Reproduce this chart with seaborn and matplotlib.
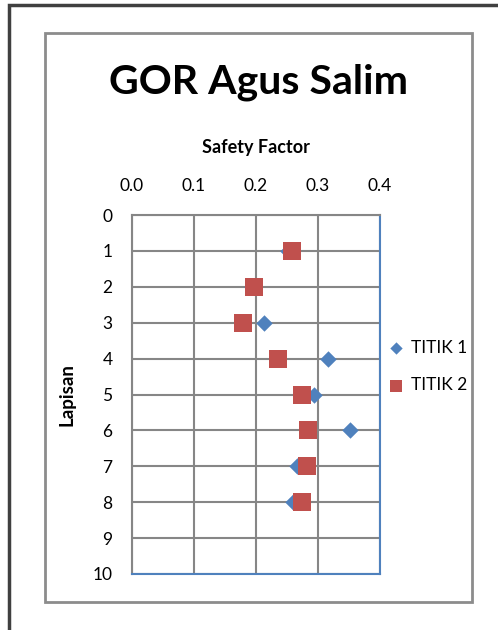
import matplotlib.pyplot as plt
import seaborn as sns
import pandas as pd
from matplotlib.patches import Rectangle

# data
lapisan = [1, 2, 3, 4, 5, 6, 7, 8]
titik_1 = [0.252, 0.193, 0.213, 0.316, 0.293, 0.352, 0.266, 0.259]
titik_2 = [0.258, 0.197, 0.179, 0.235, 0.274, 0.284, 0.283, 0.274]
series_names = ['TITIK 1', 'TITIK 2']
x_ticks = [0.0, 0.1, 0.2, 0.3, 0.4]
y_ticks = list(range(0, 11))

df = pd.DataFrame({
    'Lapisan': lapisan * 2,
    'Safety Factor': titik_1 + titik_2,
    'Titik': [series_names[0]] * len(lapisan) + [series_names[1]] * len(lapisan),
})

sns.set_theme(style='white')
plt.rcParams['font.family'] = ['Lato', 'DejaVu Sans']
plt.rcParams['text.color'] = 'black'
plt.rcParams['axes.labelcolor'] = 'black'

fig = plt.figure(figsize=(4.98, 6.3), dpi=100)
ax = fig.add_axes([0.2651, 0.0889, 0.498, 0.5698])

# frames around the chart
fig.patches.append(Rectangle((9 / 498, -0.1), 1.2, 1 - 5 / 630 + 0.1, transform=fig.transFigure,
                             fill=False, edgecolor='#404040', linewidth=2.5))
fig.patches.append(Rectangle((45 / 498, 1 - 602 / 630), 427 / 498, 569 / 630, transform=fig.transFigure,
                             fill=False, edgecolor='#8c8c8c', linewidth=2))

palette = {'TITIK 1': '#4F81BD', 'TITIK 2': '#C0504D'}
markers = {'TITIK 1': 'D', 'TITIK 2': 's'}
sizes = {'TITIK 1': 70, 'TITIK 2': 150}

for name in series_names:
    sub = df[df['Titik'] == name]
    sns.scatterplot(data=sub, x='Safety Factor', y='Lapisan', color=palette[name],
                    marker=markers[name], s=sizes[name], linewidth=0, ax=ax,
                    label=name, zorder=3, clip_on=False)

ax.set_xlim(0, 0.4)
ax.set_ylim(10, 0)
ax.set_xticks(x_ticks)
ax.set_xticklabels([f'{v:.1f}' for v in x_ticks])
ax.set_yticks(y_ticks)
ax.xaxis.tick_top()
ax.xaxis.set_label_position('top')
ax.tick_params(axis='both', length=0, labelsize=12.5, colors='black')
ax.tick_params(axis='x', pad=15)
ax.tick_params(axis='y', pad=14)
ax.grid(True, color='#868686', linewidth=1.5)
ax.set_axisbelow(True)

for side in ['top', 'left']:
    ax.spines[side].set_color('#868686')
    ax.spines[side].set_linewidth(1.5)
for side in ['right', 'bottom']:
    ax.spines[side].set_color('#4F81BD')
    ax.spines[side].set_linewidth(1.5)

ax.set_xlabel('Safety Factor', fontsize=13, fontweight='bold', labelpad=18)
ax.set_ylabel('Lapisan', fontsize=13.5, fontweight='bold', labelpad=12)

fig.text(258 / 498, 1 - 82 / 630, 'GOR Agus Salim', ha='center', va='center',
         fontsize=29.5, fontweight='bold')

ax.legend(loc='center left', bbox_to_anchor=(1.01, 0.578), frameon=False,
          fontsize=12.5, handlelength=0.8, handletextpad=0.45, labelspacing=1.25,
          markerscale=0.75, borderaxespad=0)

fig.savefig('out.png', dpi=100)
